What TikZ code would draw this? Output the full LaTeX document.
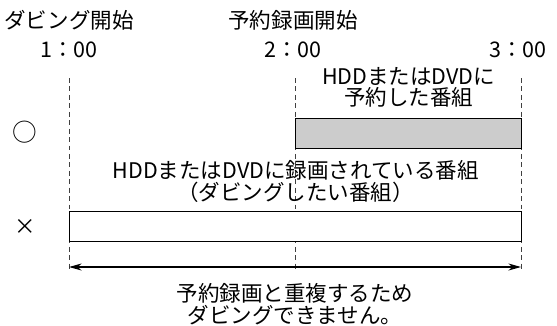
\documentclass[tikz,border=0pt]{standalone}
\usepackage{fontspec}
\setmainfont{Noto Sans CJK JP}
\usetikzlibrary{arrows.meta,positioning}

\begin{document}
\begin{tikzpicture}[
      x=0.025cm, y=-0.025cm,
      txt/.style={font=\fontsize{15.3}{15.6}\selectfont,inner sep=0pt,align=center},
      okmark/.style={font=\fontsize{17.5}{18}\selectfont,inner sep=0pt},
      guide/.style={dash pattern=on 3.5pt off 2.5pt,line width=0.6pt,black!75},
      slot/.style={draw,line width=0.9pt,inner sep=0pt,anchor=north west},
      span/.style={{Stealth[length=9pt,width=5pt]}-{Stealth[length=9pt,width=5pt]},line width=0.8pt},
    ]
    \useasboundingbox (0,0) rectangle (557,325);

    % Time axis
    \node[txt] (t1) at (69,50)  {1：00};
    \node[txt] (t2) at (293,50) {2：00};
    \node[txt] (t3) at (518,50) {3：00};
    \node[txt,above=0.27cm of t1] (dub) {ダビング開始};
    \node[txt,above=0.27cm of t2] (rec) {予約録画開始};

    % Dashed guides
    \foreach \n/\x in {a/69,b/295,c/521} {
      \coordinate (\n top) at (\x,78);
      \coordinate (\n bot) at (\x,272);
      \draw[guide] (\n top) -- (\n bot);
    }

    % Reserved programme
    \node[slot,fill=black!20,minimum width=226*0.025cm,minimum height=30*0.025cm]
          (resv) at (295,118) {};
    \node[txt,above=0.25cm of resv] (resvtxt) {HDDまたはDVDに\\予約した番組};
    \node[txt,okmark] (ok) at (25,132) {○};

    % Recorded programme to dub
    \node[slot,fill=white,minimum width=452*0.025cm,minimum height=30*0.025cm]
          (prog) at (69,211) {};
    \node[txt,above=0.2cm of prog] (progtxt) {HDDまたはDVDに録画されている番組\\（ダビングしたい番組）};
    \node[txt] (ng) at (25,227) {×};

    % Overlap span
    \coordinate (sl) at (69,267);
    \coordinate (sr) at (521,267);
    \draw[span] (sl) -- (sr);
    \node[txt] (note) at (295,304) {予約録画と重複するため\\ダビングできません。};

  \end{tikzpicture}
\end{document}
